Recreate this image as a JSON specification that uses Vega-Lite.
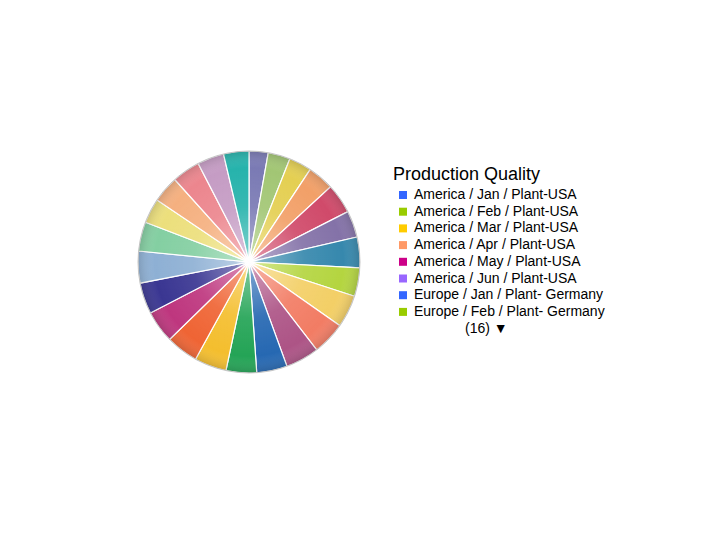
{
  "$schema": "https://vega.github.io/schema/vega-lite/v6.json",
  "width": 222,
  "height": 222,
  "autosize": {"type": "none"},
  "padding": {"left": 138, "top": 151, "right": 360, "bottom": 167},
  "background": "white",
  "data": {
    "values": [
      {"idx": 1, "group": "America / Jan / Plant-USA", "quality": 10.0},
      {"idx": 2, "group": "America / Feb / Plant-USA", "quality": 11.6},
      {"idx": 3, "group": "America / Mar / Plant-USA", "quality": 11.9},
      {"idx": 4, "group": "America / Apr / Plant-USA", "quality": 13.8},
      {"idx": 5, "group": "America / May / Plant-USA", "quality": 15.7},
      {"idx": 6, "group": "America / Jun / Plant-USA", "quality": 14.0},
      {"idx": 7, "group": "Europe / Jan / Plant- Germany", "quality": 16.0},
      {"idx": 8, "group": "Europe / Feb / Plant- Germany", "quality": 15.0},
      {"idx": 9, "group": "Europe / Mar / Plant- Germany", "quality": 17.0},
      {"idx": 10, "group": "Europe / Apr / Plant- Germany", "quality": 17.4},
      {"idx": 11, "group": "Europe / May / Plant- Germany", "quality": 17.6},
      {"idx": 12, "group": "Europe / Jun / Plant- Germany", "quality": 16.0},
      {"idx": 13, "group": "Asia / Jan / Plant- Japan", "quality": 16.0},
      {"idx": 14, "group": "Asia / Feb / Plant- Japan", "quality": 16.8},
      {"idx": 15, "group": "Asia / Mar / Plant- Japan", "quality": 16.9},
      {"idx": 16, "group": "Asia / Apr / Plant- Japan", "quality": 17.0},
      {"idx": 17, "group": "Asia / May / Plant- Japan", "quality": 16.3},
      {"idx": 18, "group": "Asia / Jun / Plant- Japan", "quality": 16.7},
      {"idx": 19, "group": "Asia / Jan / Plant- China", "quality": 15.3},
      {"idx": 20, "group": "Asia / Feb / Plant- China", "quality": 13.0},
      {"idx": 21, "group": "Asia / Mar / Plant- China", "quality": 14.0},
      {"idx": 22, "group": "Asia / Apr / Plant- China", "quality": 14.7},
      {"idx": 23, "group": "Asia / May / Plant- China", "quality": 14.0},
      {"idx": 24, "group": "Asia / Jun / Plant- China", "quality": 13.3}
    ]
  },
  "layer": [
    {
      "mark": {"type": "arc", "stroke": "white", "strokeWidth": 1.2},
      "encoding": {
        "theta": {"field": "quality", "type": "quantitative", "stack": true},
        "order": {"field": "idx", "type": "quantitative"},
        "fill": {
          "field": "idx",
          "type": "nominal",
          "sort": null,
          "legend": null,
          "scale": {
            "range": [
              "#7a7ab4", "#a2c674", "#e4cf52", "#f2a068", "#d04a6a", "#8472a8",
              "#3688ad", "#b4d540", "#f3cf66", "#f27c64", "#ad5486", "#2668b2",
              "#24a456", "#f4be2e", "#ef6434", "#be367e", "#3a3692", "#8eb0d4",
              "#84cfa2", "#ecdf7c", "#f5b080", "#ec868e", "#c59cc4", "#26b3ac"
            ]
          }
        }
      }
    },
    {
      "data": {"values": [{"glow": "pie"}]},
      "mark": {
        "type": "arc",
        "stroke": "#b8b8b8",
        "strokeWidth": 0.8,
        "fill": {
          "gradient": "radial",
          "stops": [
            {"offset": 0, "color": "rgba(255,255,255,0.9)"},
            {"offset": 0.12, "color": "rgba(255,255,255,0.35)"},
            {"offset": 0.5, "color": "rgba(255,255,255,0.08)"},
            {"offset": 0.85, "color": "rgba(255,255,255,0)"},
            {"offset": 1, "color": "rgba(60,60,60,0.18)"}
          ]
        }
      },
      "encoding": {}
    },
    {
      "mark": {"type": "arc", "opacity": 0},
      "encoding": {
        "theta": {"field": "quality", "type": "quantitative", "stack": true},
        "order": {"field": "idx", "type": "quantitative"},
        "color": {
          "field": "group",
          "type": "nominal",
          "sort": null,
          "scale": {
            "range": ["#3366ff", "#99cc00", "#ffcc00", "#ff9966", "#cc0088", "#9966ff"]
          },
          "legend": {
            "title": "Production Quality",
            "orient": "none",
            "legendX": 255,
            "legendY": 15,
            "padding": 0,
            "titleFont": "Liberation Sans",
            "titleFontSize": 18,
            "titleFontWeight": "normal",
            "titleColor": "black",
            "titlePadding": 4,
            "labelFont": "Liberation Sans",
            "labelFontSize": 14,
            "labelColor": "black",
            "labelOffset": 4,
            "labelLimit": 300,
            "symbolType": "square",
            "symbolSize": 64,
            "symbolOffset": 3,
            "symbolOpacity": 1,
            "symbolStrokeWidth": 0,
            "rowPadding": 2.7,
            "symbolLimit": 9,
            "labelExpr": "test(/entries/, datum.label) ? '(16) \u25bc' : datum.label",
            "encode": {
              "symbols": {"update": {"opacity": {"signal": "test(/entries/, datum.label) ? 0 : 1"}}},
              "labels": {"update": {"dx": {"signal": "test(/entries/, datum.label) ? 51 : 0"}}}
            }
          }
        }
      }
    }
  ]
}
